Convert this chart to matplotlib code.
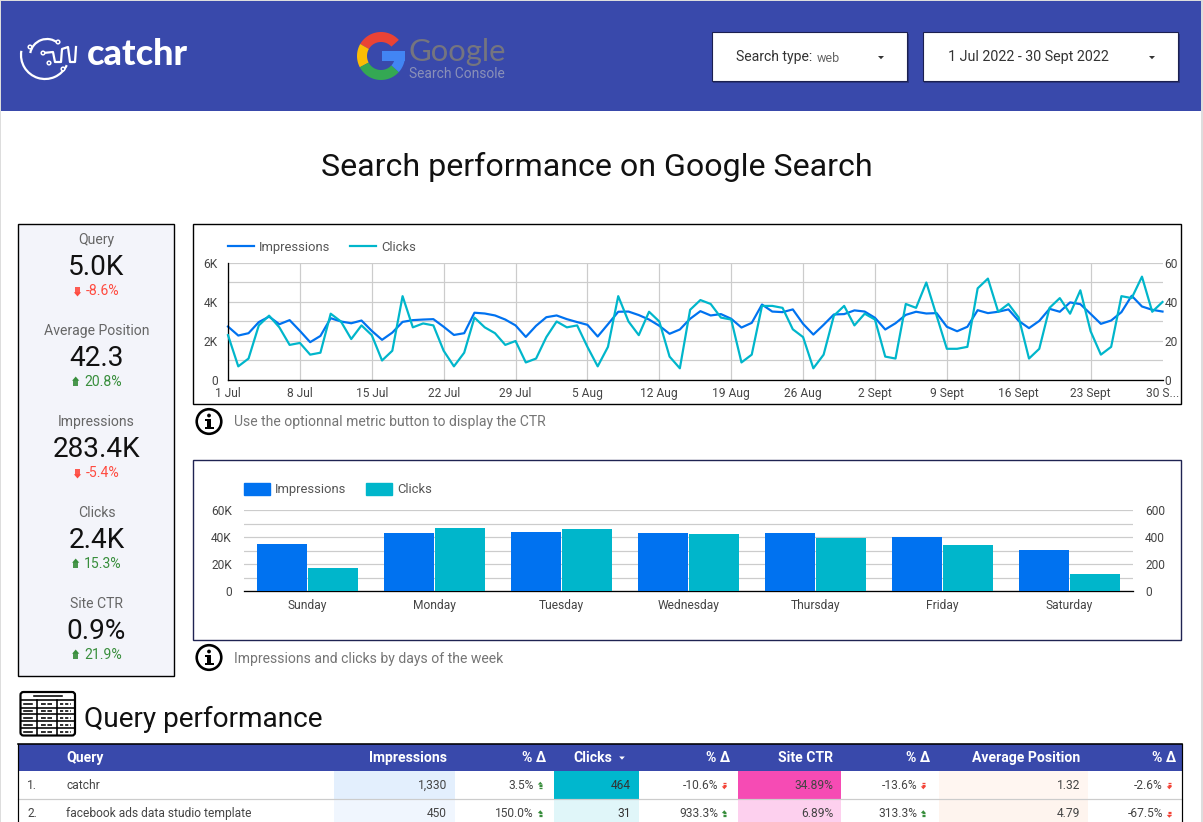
import numpy as np
import matplotlib
matplotlib.use("Agg")
import matplotlib.pyplot as plt
from matplotlib.patches import Rectangle, Polygon, Circle, Arc, FancyBboxPatch, Patch
from matplotlib.lines import Line2D

plt.rcParams['font.family'] = ['Roboto', 'DejaVu Sans']

# ---------- data ----------
impressions_daily = [2740, 2280, 2400, 2970, 3250, 2860, 3070, 2520, 1940, 2260, 3170, 3000, 2910, 3050, 2520, 2060,
                     2430, 2980, 3070, 3100, 3120, 2730, 2310, 2400, 3450, 3410, 3310, 3100, 2800, 2210, 2780, 3220,
                     3310, 3120, 2970, 2830, 2230, 2860, 3500, 3510, 3330, 3100, 2780, 2370, 2590, 3140, 3530, 3310,
                     3380, 3140, 2690, 2930, 3870, 3510, 3480, 3620, 2880, 2330, 2830, 3360, 3380, 3570, 3510, 3190,
                     2590, 2910, 3340, 3500, 3410, 3430, 2730, 2500, 2730, 3580, 3430, 3500, 3620, 3030, 2660, 3030,
                     3650, 3500, 3980, 3890, 3390, 2880, 3050, 3480, 4320, 3770, 3600, 3510]
clicks_daily = [23, 7, 11, 28, 33, 27, 18, 19, 13, 14, 34, 30, 21, 28, 23, 10, 15, 43, 27, 29, 28, 15, 7, 14, 32, 27,
                24, 18, 20, 9, 11, 22, 30, 27, 28, 17, 7, 17, 43, 30, 23, 35, 30, 12, 6, 36, 41, 39, 32, 31, 9, 13,
                38, 38, 37, 26, 22, 6, 13, 33, 38, 28, 34, 31, 12, 11, 39, 37, 50, 33, 16, 16, 17, 47, 52, 35, 39,
                32, 11, 16, 37, 42, 34, 46, 25, 13, 17, 43, 42, 53, 35, 40]
date_labels = ['1 Jul', '8 Jul', '15 Jul', '22 Jul', '29 Jul', '5 Aug', '12 Aug', '19 Aug', '26 Aug', '2 Sept',
               '9 Sept', '16 Sept', '23 Sept', '30 S...']
weekdays = ['Sunday', 'Monday', 'Tuesday', 'Wednesday', 'Thursday', 'Friday', 'Saturday']
impressions_week = [35100, 43200, 44000, 43200, 43200, 40200, 30600]
clicks_week = [173, 469, 462, 425, 395, 343, 128]

kpi_names = ['Query', 'Average Position', 'Impressions', 'Clicks', 'Site CTR']
kpi_values = ['5.0K', '42.3', '283.4K', '2.4K', '0.9%']
kpi_deltas = ['-8.6%', '20.8%', '-5.4%', '15.3%', '21.9%']

table_queries = ['catchr', 'facebook ads data studio template']
table_impr = ['1,330', '450']
table_impr_d = ['3.5%', '150.0%']
table_clicks = ['464', '31']
table_clicks_d = ['-10.6%', '933.3%']
table_ctr = ['34.89%', '6.89%']
table_ctr_d = ['-13.6%', '313.3%']
table_pos = ['1.32', '4.79']
table_pos_d = ['-2.6%', '-67.5%']

# ---------- style ----------
W, H = 1203, 822
HEADER = '#3949AB'
BLUE = '#0072F0'
TEAL = '#00B6CB'
GRID = '#CCCCCC'
RED = '#F44336'
GREEN = '#388E3C'
TICK = '#444444'


def px(n):
    return n * 0.72


fig = plt.figure(figsize=(W / 100, H / 100), dpi=100, facecolor='white')
bg = fig.add_axes([0, 0, 1, 1], zorder=0)
bg.set_xlim(0, W)
bg.set_ylim(H, 0)
bg.axis('off')


def rect(x0, y0, x1, y1, fc='none', ec='none', lw=0.0, z=1, **kw):
    bg.add_patch(Rectangle((x0, y0), x1 - x0, y1 - y0, facecolor=fc, edgecolor=ec, linewidth=lw, zorder=z, **kw))


def txt(x, y, s, size, color='#333333', ha='left', va='center', **kw):
    return bg.text(x, y, s, fontsize=px(size), color=color, ha=ha, va=va, zorder=6, **kw)


def delta_arrow(x, y, up, color, s=1.0):
    d = -1 if up else 1
    tip = y + d * 4.2 * s
    base = y + d * 1.0 * s
    bg.add_patch(Polygon([(x, tip), (x - 2.8 * s, base), (x + 2.8 * s, base)], closed=True, fc=color, ec='none', zorder=6))
    for k in [0.3, 1.9, 3.5]:
        yy = base - d * k * s
        bg.plot([x - 1.7 * s, x + 1.7 * s], [yy, yy], color=color, lw=1.0 * s, zorder=6, solid_capstyle='butt')


def caret(x, y, color='#333333', s=3.0):
    bg.add_patch(Polygon([(x - s, y - 1.5), (x + s, y - 1.5), (x, y + 1.7)], closed=True, fc=color, ec='none', zorder=6))


# window edges and header
rect(0, 0, W, H, fc='white', z=0)
rect(0, 0, 1.2, H, fc='#DDDDDD', z=0.5)
rect(1201, 0, W, H, fc='#DDDDDD', z=0.5)
rect(0, 0, W, 1, fc='#DDDDDD', z=0.5)
rect(1, 1, 1201, 111, fc=HEADER)

# catchr logo
white = dict(color='white', lw=1.6, zorder=5)
bg.add_patch(Arc((45, 55), 48, 48, theta1=25, theta2=190, ec='white', lw=1.6, zorder=5))
bg.add_patch(Arc((47, 56), 34, 34, theta1=190, theta2=310, ec='white', lw=1.6, zorder=5))
bx = [43, 53, 55, 61, 62, 68, 70, 75, 76]
by = [53, 52, 62, 62, 49, 47, 62, 62, 47]
bg.plot(bx, by, **white)
for (cx, cy) in [(30, 47), (43, 53), (49, 63), (63, 69), (58, 42)]:
    bg.add_patch(Circle((cx, cy), 1.8, fc=HEADER, ec='white', lw=1.1, zorder=6))
txt(87, 54.5, 'catchr', 36, color='white', fontweight='black', family=['Lato', 'DejaVu Sans'])


# Google G
def ring(c, a0, a1, ro=24.0, ri=14.0, x0=381.0, y0=56.0):
    t = np.radians(np.linspace(a0, a1, 40))
    pts = [(x0 + ro * np.cos(a), y0 - ro * np.sin(a)) for a in t]
    pts += [(x0 + ri * np.cos(a), y0 - ri * np.sin(a)) for a in t[::-1]]
    bg.add_patch(Polygon(pts, closed=True, fc=c, ec='none', zorder=5))


ring('#EA4335', 42, 150)
ring('#FBBC05', 150, 208)
ring('#34A853', 208, 318)
ring('#4285F4', 318, 360)
rect(381.5, 51.5, 405, 61.5, fc='#4285F4', z=5)
txt(409, 51.5, 'Google', 31, color='#75757F', family=['Lato', 'DejaVu Sans'])
txt(409, 74, 'Search Console', 13.7, color='#8A90B8')

# filter boxes
for (x0, x1) in [(711.5, 907), (922.5, 1178)]:
    rect(x0 + 1, 34, x1 + 1.5, 83, fc='#1F2761', alpha=0.55, z=1.5)
    rect(x0, 32.5, x1, 81, fc='white', ec='#1B2050', lw=0.8, z=2)
txt(736, 57.5, 'Search type:', 14, color='#333333')
txt(817, 58, 'web', 12.5, color='#666666')
txt(947.5, 57.5, '1 Jul 2022 - 30 Sept 2022', 14.2, color='#333333')
caret(881, 57.5)
caret(1152, 57.5)

# title
txt(597, 166.5, 'Search performance on Google Search', 32.1, color='#111111', ha='center')

# KPI panel
rect(18, 223.7, 174.2, 676.3, fc='#F3F4FA', ec='black', lw=1.0, z=1)
kpi_y = [239.5, 330.5, 421.5, 512.5, 603.5]
for name, val, dlt, y in zip(kpi_names, kpi_values, kpi_deltas, kpi_y):
    up = not dlt.startswith('-')
    col = GREEN if up else '#FF4B40'
    txt(96.5, y, name, 14, color='#666666', ha='center')
    txt(96.5, y + 27.5, val, 28, color='#111111', ha='center')
    txt(86 if not up else 84, y + 51, dlt, 14, color=col)
    delta_arrow(77.5 if not up else 75.7, y + 51.5, up, col, 1.3)

# chart panels
rect(193, 223.5, 1181, 404, fc='white', ec='black', lw=1.0, z=1)
rect(193, 459.5, 1181, 640, fc='white', ec='#1F2352', lw=1.0, z=1)


def make_axes(x0, y0, x1, y1):
    return fig.add_axes([x0 / W, 1 - y1 / H, (x1 - x0) / W, (y1 - y0) / H], zorder=3, facecolor='none')


# line chart
days = np.arange(len(clicks_daily))
ax = make_axes(228.0, 263.0, 1162.5, 380.0)
ax.plot(days, impressions_daily, color=BLUE, lw=px(2.2), solid_joinstyle='round', clip_on=False)
ax.set_xlim(0, days[-1])
ax.set_ylim(0, 6000)
ax.set_yticks([0, 2000, 4000, 6000], ['0', '2K', '4K', '6K'])
ax.set_yticks([1000, 3000, 5000], minor=True)
ax.set_xticks(days[::7], date_labels)
ax.grid(True, which='both', color=GRID, lw=px(1.2))
ax.get_xgridlines()[-1].set_visible(False)
ax.tick_params(axis='both', which='both', length=0, labelsize=px(12), labelcolor=TICK)
ax.tick_params(axis='y', pad=px(10))
ax.tick_params(axis='x', pad=px(6.5))
for side in ['top', 'right']:
    ax.spines[side].set_visible(False)
for side in ['left', 'bottom']:
    ax.spines[side].set_color('black')
    ax.spines[side].set_linewidth(px(1.3))
ax.set_axisbelow(True)
ax2 = ax.twinx()
ax2.set_zorder(4)
ax2.set_facecolor('none')
ax2.plot(days, clicks_daily, color=TEAL, lw=px(2.2), solid_joinstyle='round', clip_on=False)
ax2.set_xlim(0, days[-1])
ax2.set_ylim(0, 60)
ax2.set_yticks([0, 20, 40, 60], ['0', '20', '40', '60'])
ax2.tick_params(axis='y', length=0, labelsize=px(12), labelcolor=TICK, pad=px(2))
for side in ax2.spines:
    ax2.spines[side].set_visible(False)
ax2.legend([Line2D([], [], color=BLUE, lw=px(2.2)), Line2D([], [], color=TEAL, lw=px(2.2))],
           ['Impressions', 'Clicks'], loc='center left', bbox_to_anchor=(228, 247.5),
           bbox_transform=bg.transData, ncol=2, frameon=False, fontsize=px(13), borderpad=0, borderaxespad=0,
           handlelength=2.0, handletextpad=0.4, columnspacing=1.47, labelcolor='#555555')

# bar chart
pos = np.arange(len(weekdays))
bx1 = make_axes(244.0, 510.3, 1133.0, 591.3)
bx1.bar(pos - 0.2, impressions_week, width=0.395, color=BLUE, zorder=3)
bx1.set_xlim(-0.5, 6.5)
bx1.set_ylim(0, 60000)
bx1.set_yticks([0, 20000, 40000, 60000], ['0', '20K', '40K', '60K'])
bx1.set_yticks([10000, 30000, 50000], minor=True)
bx1.set_xticks(pos, weekdays)
bx1.grid(True, axis='y', which='both', color=GRID, lw=px(1.2), zorder=0)
bx1.set_axisbelow(True)
bx1.tick_params(axis='both', which='both', length=0, labelsize=px(12), labelcolor=TICK)
bx1.tick_params(axis='y', pad=px(12))
bx1.tick_params(axis='x', pad=px(8))
for side in ['top', 'right', 'left']:
    bx1.spines[side].set_visible(False)
bx1.spines['bottom'].set_color('black')
bx1.spines['bottom'].set_linewidth(px(1.3))
bx2 = bx1.twinx()
bx2.set_zorder(4)
bx2.set_facecolor('none')
bx2.bar(pos + 0.2, clicks_week, width=0.395, color=TEAL, zorder=3)
bx2.set_xlim(-0.5, 6.5)
bx2.set_ylim(0, 600)
bx2.set_yticks([0, 200, 400, 600], ['0', '200', '400', '600'])
bx2.tick_params(axis='y', length=0, labelsize=px(12), labelcolor=TICK, pad=px(12))
for side in bx2.spines:
    bx2.spines[side].set_visible(False)
bx2.legend([Patch(color=BLUE), Patch(color=TEAL)], ['Impressions', 'Clicks'], loc='center left',
           bbox_to_anchor=(244, 489.5), bbox_transform=bg.transData, ncol=2, frameon=False, fontsize=px(13),
           borderpad=0, borderaxespad=0, handlelength=2.0, handleheight=1.0, handletextpad=0.4, columnspacing=1.5,
           labelcolor='#555555')


# notes with info icons
def info(x, y):
    bg.add_patch(Circle((x, y), 12.3, fc='white', ec='black', lw=px(2.6), zorder=5))
    bg.add_patch(Circle((x, y - 6), 1.9, fc='black', ec='none', zorder=6))
    rect(x - 1.8, y - 2.5, x + 2, y + 6, fc='black', z=6)
    rect(x - 4, y - 2.5, x + 2, y - 0.8, fc='black', z=6)
    rect(x - 4, y + 5, x + 5, y + 7.2, fc='black', z=6)


info(209, 421.5)
txt(234, 422, 'Use the optionnal metric button to display the CTR', 14, color='#757575')
info(209, 657.5)
txt(234, 659, 'Impressions and clicks by days of the week', 14, color='#757575')

# table heading and icon
txt(84.5, 719.5, 'Query performance', 28, color='#111111')
bg.add_patch(FancyBboxPatch((20.5, 692), 54.5, 43.5, boxstyle='round,pad=0,rounding_size=3', fc='white', ec='black',
                            lw=px(2.2), zorder=5))
for yy in [700, 707.5, 714, 721, 728]:
    bg.plot([21, 75], [yy, yy], color='black', lw=px(1.6), zorder=6)
for xx in [37, 57]:
    bg.plot([xx, xx], [700, 735], color='black', lw=px(1.6), zorder=6)
dash = dict(color='black', lw=px(1.6), zorder=6)
bg.plot([34, 62], [696.3, 696.3], **dash)
for yy in [704, 711, 718, 725, 732]:
    bg.plot([24, 32], [yy, yy], **dash)
    bg.plot([41, 52], [yy, yy], ls=(0, (3, 1)), **dash)
    bg.plot([60, 71], [yy, yy], ls=(0, (2, 1.2)), **dash)

# table
rect(18, 744, 1182, 771, fc=HEADER, z=2)
bg.plot([18, 1182], [744, 744], color='black', lw=px(1.6), zorder=4)
bg.plot([18, 18], [744, H], color='black', lw=px(1.2), zorder=4)
bg.plot([1182, 1182], [744, H], color='black', lw=px(1.2), zorder=4)
bg.plot([18, 1182], [799.3, 799.3], color=GRID, lw=px(1.2), zorder=3)

heads = [('Query', 66.5, 'left'), ('Impressions', 447, 'right'), ('% Δ', 546, 'right'), ('Clicks', 612, 'right'),
         ('% Δ', 730, 'right'), ('Site CTR', 833, 'right'), ('% Δ', 930, 'right'),
         ('Average Position', 1080, 'right'), ('% Δ', 1176, 'right')]
for s, x, ha in heads:
    txt(x, 757.5, s, 14, color='white', ha=ha, fontweight='bold')
caret(622, 758, color='white', s=2.8)

row_y = [785, 813.5]
row_span = [(771.3, 798.8), (799.8, 822)]
cell_colors = {
    (334, 455): ['#E3EFFD', '#F0F6FE'],
    (554, 639): ['#00B7CE', '#E0F6F9'],
    (738, 841): ['#F64BB4', '#FDD0EE'],
    (938.5, 1088): ['#FFF6F1', '#FEF4EE'],
}
for (x0, x1), cols in cell_colors.items():
    for (y0, y1), c in zip(row_span, cols):
        rect(x0, y0, x1, y1, fc=c, z=2)

for i, y in enumerate(row_y):
    txt(27, y, f'{i + 1}.', 12, color='#444444')
    txt(66.5, y, table_queries[i], 12, color='#444444')
    txt(447, y, table_impr[i], 12, color='#444444', ha='right')
    txt(631, y, table_clicks[i], 12, color='#333333', ha='right')
    txt(833, y, table_ctr[i], 12, color='#444444', ha='right')
    txt(1080, y, table_pos[i], 12, color='#444444', ha='right')
    for s, xr in [(table_impr_d[i], 534), (table_clicks_d[i], 718), (table_ctr_d[i], 917), (table_pos_d[i], 1163)]:
        txt(xr, y, s, 12, color='#444444', ha='right')
        up = not s.startswith('-')
        delta_arrow(xr + 6.3, y + 0.5, up, GREEN if up else RED, 0.9)

fig.savefig('out.png', dpi=100, facecolor='white')
